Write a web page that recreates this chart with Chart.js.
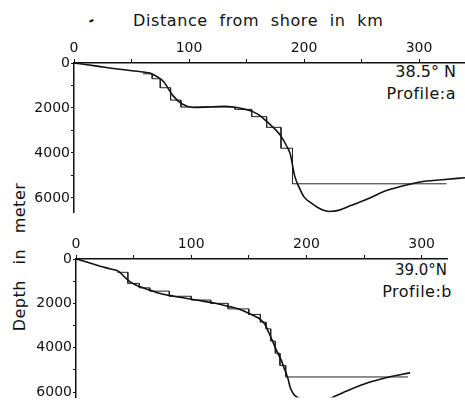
<!DOCTYPE html>
<html>
<head>
<meta charset="utf-8">
<script src="https://cdn.jsdelivr.net/npm/chart.js@4.4.1/dist/chart.umd.min.js"></script>
<style>
  body { margin: 0; background: #fff; width: 465px; height: 407px; overflow: hidden; position: relative; font-family: 'DejaVu Sans', sans-serif; color: #111; }
  canvas { position: absolute; left: 0; }
  .lbl { position: absolute; white-space: nowrap; }
</style>
</head>
<body>
<div class="lbl" style="left:88px; top:12px; font-size:14px; font-weight:bold; transform:rotate(-25deg);">-</div>
<div class="lbl" style="left:133px; top:11px; font-size:16px; letter-spacing:0.6px; word-spacing:6px;">Distance from shore in km</div>
<div class="lbl" style="right:9px; top:62px; font-size:16px;">38.5° N</div>
<div class="lbl" style="right:9px; top:84px; font-size:16px; letter-spacing:0.5px;">Profile:a</div>
<div class="lbl" style="right:18px; top:261px; font-size:15px;">39.0°N</div>
<div class="lbl" style="right:13px; top:282px; font-size:16px; letter-spacing:0.5px;">Profile:b</div>
<div class="lbl" style="left:19px; top:257px; font-size:16px; letter-spacing:0.5px; word-spacing:10px; transform:translate(-50%,-50%) rotate(-90deg);">Depth in meter</div>
<canvas id="chartA" width="465" height="222" style="top:0"></canvas>
<canvas id="chartB" width="465" height="187" style="top:220px"></canvas>
<script>
// profile a (38.5 N): smooth bottom profile and stepped version
const aCurveKm = [0, 20, 40, 60, 66, 72, 78, 86, 94, 104, 115, 130, 140, 148, 155, 162, 168, 175, 180, 185, 188, 192, 196, 200, 207, 214, 222, 230, 240, 255, 270, 285, 301, 320, 340];
const aCurveDepth = [0, 140, 280, 400, 450, 600, 830, 1450, 1820, 1975, 1960, 1925, 1970, 2050, 2150, 2350, 2620, 2950, 3250, 3700, 4040, 5040, 5550, 5950, 6250, 6480, 6600, 6550, 6350, 6050, 5700, 5480, 5290, 5190, 5100];
const aStepKm = [60, 68, 68, 75, 75, 84, 84, 93, 93, 140, 140, 154.5, 154.5, 167.5, 167.5, 180, 180, 190, 190, 324];
const aStepDepth = [480, 480, 700, 700, 1100, 1100, 1650, 1650, 1960, 1960, 2060, 2060, 2385, 2385, 2860, 2860, 3790, 3790, 5370, 5370];

// profile b (39.0 N)
const bCurveKm = [0, 10, 21, 30, 37, 42, 47, 55, 64, 73, 85, 99, 110, 122, 134, 142, 148, 154, 160, 164, 167, 171, 174, 178, 181, 184, 186, 189, 192, 196, 203, 212, 218, 223, 235, 252, 270, 290];
const bCurveDepth = [0, 150, 325, 450, 560, 800, 1030, 1240, 1400, 1560, 1680, 1800, 1900, 2010, 2160, 2265, 2400, 2550, 2720, 2950, 3280, 3750, 4120, 4550, 4970, 5400, 5810, 6100, 6230, 6400, 6500, 6450, 6350, 6230, 5950, 5600, 5340, 5135];
const bStepKm = [36, 45, 45, 55, 55, 64, 64, 81, 81, 100, 100, 117, 117, 132, 132, 150, 150, 160, 160, 165, 165, 169, 169, 173, 173, 177, 177, 182, 182, 288];
const bStepDepth = [600, 600, 1100, 1100, 1300, 1300, 1450, 1450, 1680, 1680, 1850, 1850, 2000, 2000, 2250, 2250, 2500, 2500, 2850, 2850, 3150, 3150, 3700, 3700, 4250, 4250, 4800, 4800, 5320, 5320];

// tick marks, and the ones that carry a label
const kmTicks = [0, 50, 100, 150, 200, 250, 300];
const kmLabels = [0, 100, 200, 300];
const depthTicks = [0, 1000, 2000, 3000, 4000, 5000, 6000];
const depthLabels = [0, 2000, 4000, 6000];

const toPoints = (xs, ys) => xs.map((x, i) => ({ x: x, y: ys[i] }));
const font = { family: 'DejaVu Sans', size: 14 };

function makeConfig(curveKm, curveDepth, stepKm, stepDepth, xMax, yMax, yWidth, padding) {
    return {
        type: 'line',
        data: {
            datasets: [
                {
                    label: 'profile',
                    data: toPoints(curveKm, curveDepth),
                    borderColor: '#111',
                    borderWidth: 1.6,
                    pointRadius: 0,
                    cubicInterpolationMode: 'monotone'
                },
                {
                    label: 'steps',
                    data: toPoints(stepKm, stepDepth),
                    borderColor: '#222',
                    borderWidth: 1,
                    pointRadius: 0,
                    tension: 0
                }
            ]
        },
        options: {
            responsive: false,
            animation: false,
            layout: { padding: padding },
            plugins: { legend: { display: false }, tooltip: { enabled: false } },
            scales: {
                x: {
                    type: 'linear',
                    position: 'top',
                    min: 0,
                    max: xMax,
                    afterBuildTicks: s => { s.ticks = kmTicks.map(v => ({ value: v })); },
                    afterFit: s => { s.height = 33; },
                    ticks: {
                        autoSkip: false,
                        maxRotation: 0,
                        padding: 2,
                        color: '#111',
                        font: font,
                        callback: v => kmLabels.includes(v) ? String(v) : ''
                    },
                    grid: { drawOnChartArea: false, tickLength: 4, color: '#111' },
                    border: { display: true, color: '#111', width: 1.5 }
                },
                y: {
                    type: 'linear',
                    reverse: true,
                    min: 0,
                    max: yMax,
                    afterBuildTicks: s => { s.ticks = depthTicks.map(v => ({ value: v })); },
                    afterFit: s => { s.width = yWidth; },
                    ticks: {
                        autoSkip: false,
                        padding: 1,
                        color: '#111',
                        font: font,
                        callback: v => depthLabels.includes(v) ? String(v) : ''
                    },
                    grid: { drawOnChartArea: false, tickLength: 3, color: '#111' },
                    border: { display: true, color: '#111', width: 1.5 }
                }
            }
        }
    };
}

new Chart(document.getElementById('chartA'),
    makeConfig(aCurveKm, aCurveDepth, aStepKm, aStepDepth, 340, 6650, 74, { top: 30, left: 0, right: 0, bottom: 5 }));
new Chart(document.getElementById('chartB'),
    makeConfig(bCurveKm, bCurveDepth, bStepKm, bStepDepth, 322, 6250, 76, { top: 6, left: 0, right: 18, bottom: 0 }));
</script>
</body>
</html>
